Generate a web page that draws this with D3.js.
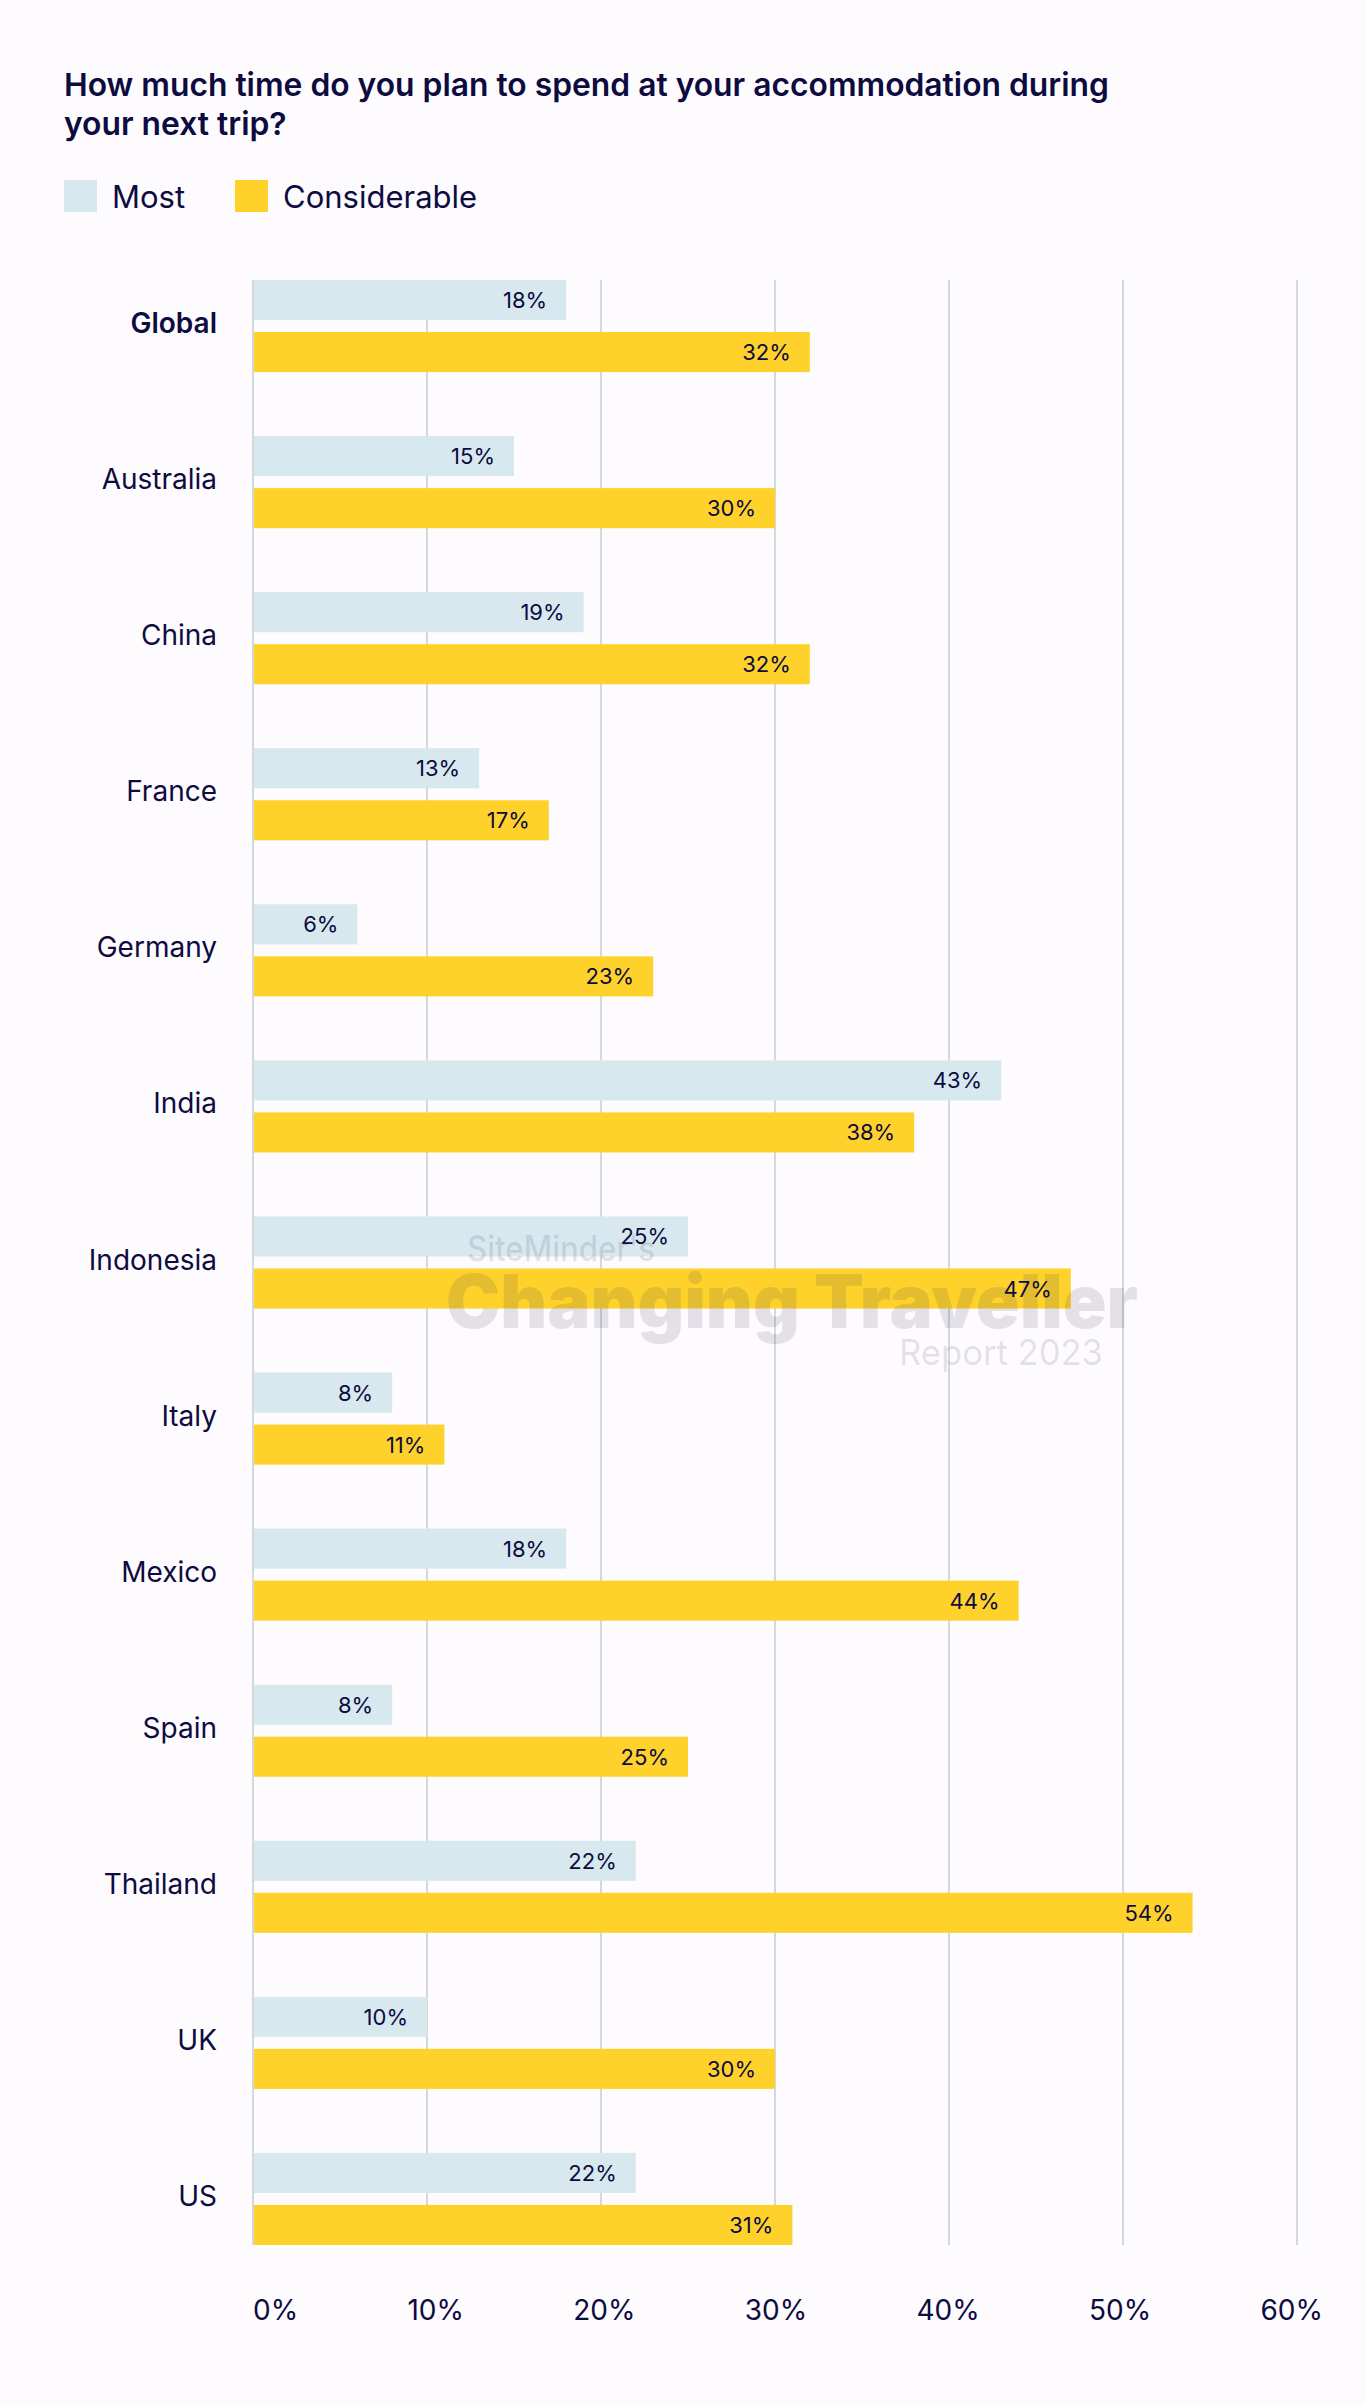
<!DOCTYPE html>
<html>
<head>
<meta charset="utf-8">
<script src="https://cdn.jsdelivr.net/npm/d3@7"></script>
<style>
  html, body { margin: 0; padding: 0; background: #fdfbfd; }
  svg { display: block; }
</style>
</head>
<body>
<svg id="chart" width="1366" height="2406"></svg>
<script>
// ---- Data ----
const categories = ["Global", "Australia", "China", "France", "Germany", "India", "Indonesia", "Italy", "Mexico", "Spain", "Thailand", "UK", "US"];
const mostValues = [18, 15, 19, 13, 6, 43, 25, 8, 18, 8, 22, 10, 22];
const considerableValues = [32, 30, 32, 17, 23, 38, 47, 11, 44, 25, 54, 30, 31];
const seriesNames = ["Most", "Considerable"];
const tickValues = [0, 10, 20, 30, 40, 50, 60];
const tickLabels = ["0%", "10%", "20%", "30%", "40%", "50%", "60%"];
const titleLines = ["How much time do you plan to spend at your accommodation during", "your next trip?"];

// ---- Styles ----
const NAVY = "#0d0b40";
const colors = { "Most": "#d7e8ef", "Considerable": "#fed22b" };
const FONT = "Inter, 'Noto Sans', sans-serif";

const svg = d3.select("#chart");

// Title
svg.append("g").selectAll("text").data(titleLines).join("text")
  .attr("x", 64)
  .attr("y", (d, i) => 96 + i * 39)
  .attr("font-family", FONT)
  .attr("font-weight", 600)
  .attr("font-size", 31.8)
  .attr("fill", NAVY)
  .text(d => d);

// Legend
const legendX = { "Most": 64, "Considerable": 235 };
const legend = svg.append("g").selectAll("g").data(seriesNames).join("g")
  .attr("transform", d => `translate(${legendX[d]},180)`);
legend.append("rect").attr("width", 33).attr("height", 32).attr("fill", d => colors[d]);
legend.append("text").attr("x", 48).attr("y", 28)
  .attr("font-family", FONT).attr("font-size", 31).attr("fill", NAVY)
  .text(d => d);

// Scales
const x = d3.scaleLinear().domain([0, 60]).range([253, 1297]);
const y = d3.scaleBand().domain(categories).range([280, 2245]).paddingInner(0.41).paddingOuter(0);
const ySub = d3.scaleBand().domain(seriesNames).range([0, y.bandwidth()]).paddingInner(0.23);

// Gridlines
svg.append("g").selectAll("line").data(tickValues).join("line")
  .attr("x1", d => x(d)).attr("x2", d => x(d))
  .attr("y1", 280).attr("y2", 2245)
  .attr("stroke", "#d3d8db").attr("stroke-width", 2);

// Bars
const rows = categories.map((c, i) => ({ cat: c, vals: [
  { s: "Most", v: mostValues[i] },
  { s: "Considerable", v: considerableValues[i] }
]}));

const groups = svg.append("g").selectAll("g").data(rows).join("g")
  .attr("transform", d => `translate(0,${y(d.cat)})`);

groups.selectAll("rect").data(d => d.vals).join("rect")
  .attr("x", x(0) + 1)
  .attr("y", d => ySub(d.s))
  .attr("width", d => x(d.v) - x(0) - 1)
  .attr("height", ySub.bandwidth())
  .attr("fill", d => colors[d.s]);

// Watermark
const wm = svg.append("g").attr("fill", "#2a2050").attr("fill-opacity", 0.12).attr("font-family", FONT);
wm.append("text").attr("x", 467).attr("y", 1261).attr("font-size", 35).attr("font-weight", 500)
  .attr("textLength", 188).attr("lengthAdjust", "spacingAndGlyphs").text("SiteMinder's");
wm.append("text").attr("x", 446).attr("y", 1328).attr("font-size", 74).attr("font-weight", 900)
  .attr("textLength", 692).attr("lengthAdjust", "spacingAndGlyphs").text("Changing Traveller");
wm.append("text").attr("x", 899).attr("y", 1365).attr("font-size", 35).attr("font-weight", 400)
  .attr("textLength", 204).attr("lengthAdjust", "spacingAndGlyphs").text("Report 2023");

// Value labels
groups.selectAll("text.val").data(d => d.vals).join("text")
  .attr("class", "val")
  .attr("x", d => x(d.v) - 19)
  .attr("y", d => ySub(d.s) + ySub.bandwidth() / 2 + 8)
  .attr("text-anchor", "end")
  .attr("font-family", FONT).attr("font-size", 22).attr("fill", NAVY)
  .text(d => d.v + "%");

// Category labels
svg.append("g").selectAll("text").data(categories).join("text")
  .attr("x", 217)
  .attr("y", d => y(d) + y.bandwidth() / 2 + 7)
  .attr("text-anchor", "end")
  .attr("font-family", FONT)
  .attr("font-size", 28)
  .attr("font-weight", d => d === "Global" ? 600 : 400)
  .attr("fill", NAVY)
  .text(d => d);

// Tick labels (distributed space-between from axis start to just past last tick)
const tickG = svg.append("g");
const tl = tickG.selectAll("text").data(tickValues).join("text")
  .attr("y", 2320)
  .attr("font-family", FONT).attr("font-size", 28).attr("fill", NAVY)
  .text((d, i) => tickLabels[i]);
const widths = tl.nodes().map(n => n.getComputedTextLength());
const left = x(0), right = x(60) + 26;
const gap = (right - left - d3.sum(widths)) / (widths.length - 1);
let cur = left;
tl.attr("x", (d, i) => { const p = cur; cur += widths[i] + gap; return p; });
</script>
</body>
</html>
